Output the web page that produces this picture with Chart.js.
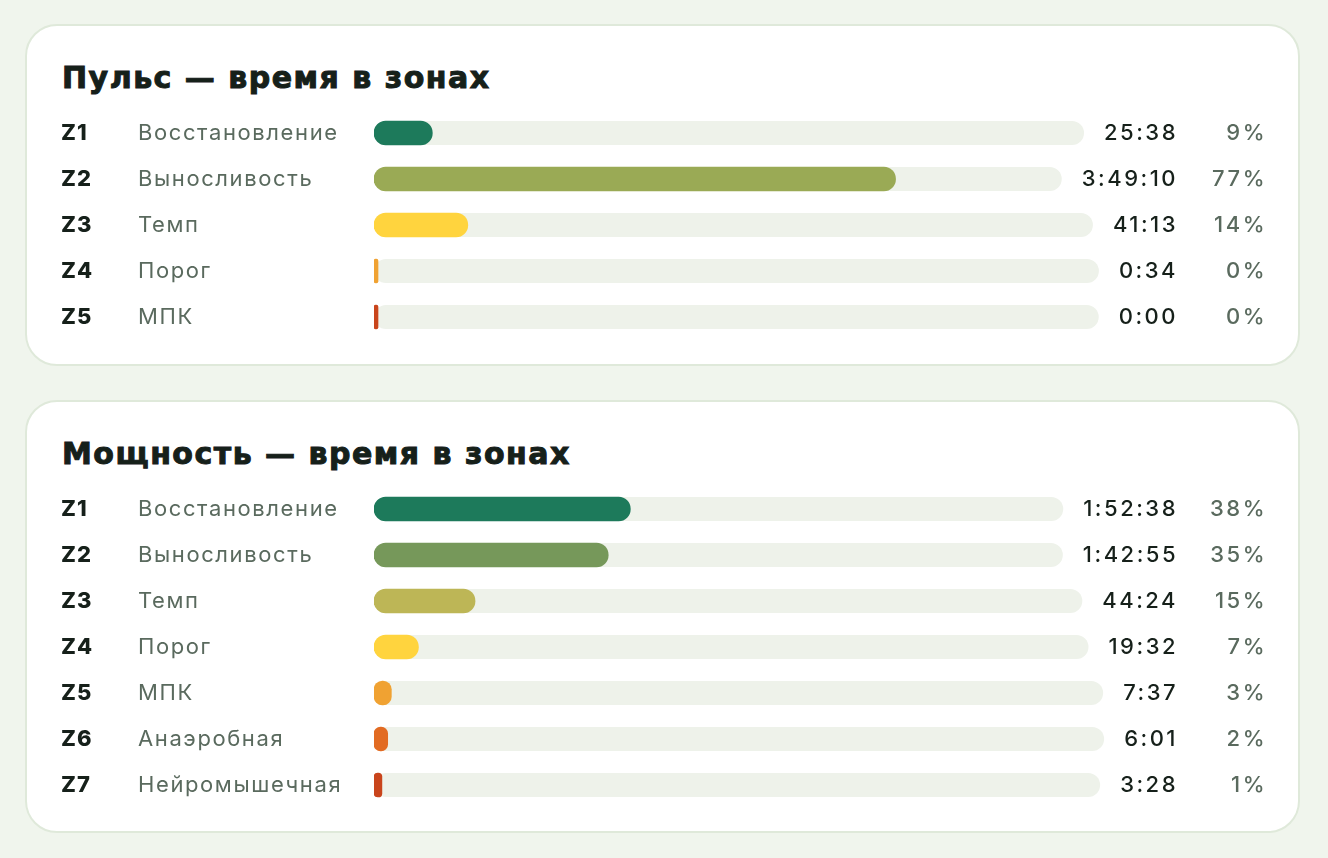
<!DOCTYPE html>
<html><head><meta charset="utf-8">
<script src="https://cdn.jsdelivr.net/npm/chart.js@4"></script>
<style>
body{margin:0;background:#f0f5ed;width:1328px;height:858px;position:relative;overflow:hidden;font-family:Inter,sans-serif}
.card{position:absolute;left:25px;width:1275px;background:#fff;border:2px solid #dfe9da;border-radius:32px;box-sizing:border-box}
.t{position:absolute;left:35px;font-family:"DejaVu Sans";font-weight:bold;font-size:30px;color:#16201a;letter-spacing:1.5px;margin:0;-webkit-text-stroke:1px #16201a}
canvas{position:absolute;left:0}
</style></head><body>
<div class="card" id="c1" style="top:24px;height:342px"><h2 class="t" style="top:34px">Пульс — время в зонах</h2><canvas id="ch1"></canvas></div>
<div class="card" id="c2" style="top:400px;height:433px"><h2 class="t" style="top:34px">Мощность — время в зонах</h2><canvas id="ch2"></canvas></div>
<script>
const hrZones=["Z1","Z2","Z3","Z4","Z5"];
const hrNames=["Восстановление","Выносливость","Темп","Порог","МПК"];
const hrTimes=["25:38","3:49:10","41:13","0:34","0:00"];
const hrColors=["#1d7a5b","#9aaa55","#ffd43e","#f0a232","#c9451c"];
const pwZones=["Z1","Z2","Z3","Z4","Z5","Z6","Z7"];
const pwNames=["Восстановление","Выносливость","Темп","Порог","МПК","Анаэробная","Нейромышечная"];
const pwTimes=["1:52:38","1:42:55","44:24","19:32","7:37","6:01","3:28"];
const pwColors=["#1d7a5b","#76985a","#bdb656","#ffd43e","#f0a232","#e26b22","#c9451c"];

function secs(t){return t.split(":").reduce((a,b)=>a*60+ +b,0);}
function make(id,top,zones,names,times,colors){
  const s=times.map(secs),tot=s.reduce((a,b)=>a+b,0);
  const pct=s.map(v=>v/tot*100);
  const cv=document.getElementById(id);
  const H=46*zones.length;
  cv.style.top=top+"px";cv.width=1271;cv.height=H;cv.style.width="1271px";cv.style.height=H+"px";
  const textPlug={id:'txt',beforeDatasetsDraw(ch){
    const c=ch.ctx,ys=ch.scales.y,x0=ch.chartArea.left;
    c.save();c.textBaseline="middle";
    zones.forEach((z,i)=>{
      const y=ys.getPixelForValue(i);
      c.letterSpacing="2.5px";
      c.font="500 22px Inter";const tw=c.measureText(times[i]).width;
      const tr=1151-tw-20;
      c.fillStyle="#eef2ea";c.beginPath();c.roundRect(x0,y-12,tr-x0,24,12);c.fill();
      c.fillStyle="#16201a";c.textAlign="right";c.fillText(times[i],1151,y);
      c.fillStyle="#5a6a5e";c.fillText(Math.round(pct[i])+"%",1240,y);
      c.textAlign="left";c.fillStyle="#16201a";c.letterSpacing="1px";c.font="800 22px Inter";c.fillText(z,34,y);
      c.letterSpacing="1.6px";c.fillStyle="#5a6a5e";c.font="22px Inter";c.fillText(names[i],111,y);
    });c.restore();}};
  new Chart(cv,{type:'bar',data:{labels:zones,datasets:[{data:pct,backgroundColor:colors,barThickness:24,borderRadius:12,borderSkipped:false,minBarLength:4}]},
    options:{indexAxis:'y',responsive:false,animation:false,layout:{padding:{left:347,right:1271-347-675,top:0,bottom:0}},
      plugins:{legend:{display:false},tooltip:{enabled:false}},
      scales:{x:{display:false,min:0,max:100},y:{display:false}}},plugins:[textPlug]});
}
make("ch1",84,hrZones,hrNames,hrTimes,hrColors);
make("ch2",84,pwZones,pwNames,pwTimes,pwColors);
</script></body></html>
